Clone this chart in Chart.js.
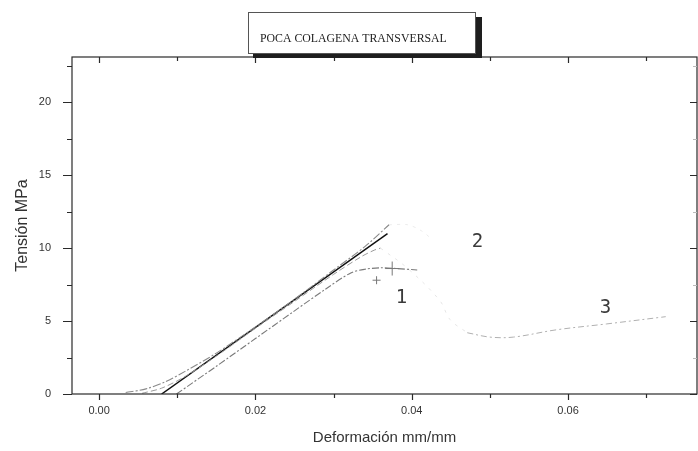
<!DOCTYPE html>
<html>
<head>
<meta charset="utf-8">
<script src="https://cdn.jsdelivr.net/npm/chart.js@4.4.0/dist/chart.umd.min.js"></script>
<style>
  html, body { margin: 0; padding: 0; background: #fff; overflow: hidden; }
  #wrap { position: absolute; left: 0; top: 0; width: 705px; height: 451px; }
</style>
</head>
<body>
<div id="wrap"><canvas id="c" width="705" height="451"></canvas></div>
<script>
// ---- Data ----
const chartTitle = 'POCA COLAGENA TRANSVERSAL';
const xTitle = 'Deformación mm/mm';
const yTitle = 'Tensión MPa';

const xTickValues = [0, 0.01, 0.02, 0.03, 0.04, 0.05, 0.06, 0.07];
const yTickValues = [0, 5, 10, 15, 20];
const yMinorValues = [2.5, 7.5, 12.5, 17.5, 22.5];

// solid black fit line
const fitStrain = [0.0080, 0.0369];
const fitStress = [0.0, 11.0];

// curve 1 (lower dashed)
const c1Strain = [0.0099, 0.0150, 0.0200, 0.0250, 0.0290, 0.0322, 0.0340, 0.0360, 0.0380, 0.0407];
const c1Stress = [0.0, 1.9, 3.8, 5.7, 7.2, 8.3, 8.55, 8.65, 8.6, 8.5];

// curve 2 (upper dashed)
const c2Strain = [0.0034, 0.0060, 0.0085, 0.0110, 0.0150, 0.0200, 0.0250, 0.0300, 0.0340, 0.0371];
const c2Stress = [0.1, 0.35, 0.85, 1.55, 2.8, 4.6, 6.5, 8.5, 10.1, 11.6];
const c2TailStrain = [0.0371, 0.0395, 0.0412, 0.0424];
const c2TailStress = [11.6, 11.6, 11.2, 10.7];

// curve 3
const c3Strain = [0.0055, 0.0080, 0.0110, 0.0150, 0.0200, 0.0250, 0.0300, 0.0335, 0.0352, 0.0360];
const c3Stress = [0.05, 0.4, 1.2, 2.6, 4.5, 6.35, 8.2, 9.4, 9.86, 10.0];
const c3FaintStrain = [0.0360, 0.0395, 0.0436, 0.0449, 0.0471];
const c3FaintStress = [10.0, 8.6, 6.4, 5.1, 4.2];
const c3TailStrain = [0.0471, 0.0500, 0.0530, 0.0585, 0.0649, 0.0725];
const c3TailStress = [4.2, 3.9, 3.9, 4.4, 4.8, 5.3];

// error crosses near curve 1 peak
const crossStrain = [0.0375, 0.0355];
const crossStress = [8.6, 7.8];
const crossSize = [7, 4];

// curve labels
const labelText = ['1', '2', '3'];
const labelStrain = [0.0387, 0.0484, 0.0648];
const labelStress = [6.6, 10.4, 5.9];

function pts(xs, ys) { return xs.map((x, i) => ({ x: x, y: ys[i] })); }

const frameColor = '#2a2a2a';

const decorPlugin = {
  id: 'decor',
  afterDraw(chart) {
    const ctx = chart.ctx;
    const a = chart.chartArea;
    const xs = chart.scales.x, ys = chart.scales.y;
    ctx.save();
    // frame
    ctx.strokeStyle = frameColor;
    ctx.lineWidth = 1.2;
    ctx.strokeRect(a.left, a.top, a.right - a.left, a.bottom - a.top);
    // x ticks
    xTickValues.forEach((v, i) => {
      const px = Math.round(xs.getPixelForValue(v)) + 0.5;
      const major = i % 2 === 0;
      const L = major ? 6 : 4;
      ctx.beginPath();
      ctx.moveTo(px, a.bottom); ctx.lineTo(px, a.bottom + L);
      ctx.moveTo(px, a.top); ctx.lineTo(px, a.top + L);
      ctx.stroke();
    });
    // y ticks
    yTickValues.forEach(v => {
      const py = Math.round(ys.getPixelForValue(v)) + 0.5;
      ctx.beginPath();
      ctx.moveTo(a.left - 9, py); ctx.lineTo(a.left, py);
      ctx.moveTo(a.right - 7, py); ctx.lineTo(a.right, py);
      ctx.stroke();
    });
    ctx.lineWidth = 1;
    yMinorValues.forEach(v => {
      const py = Math.round(ys.getPixelForValue(v)) + 0.5;
      ctx.beginPath();
      ctx.moveTo(a.left - 5, py); ctx.lineTo(a.left, py);
      ctx.stroke();
      ctx.strokeStyle = '#bbb';
      ctx.beginPath();
      ctx.moveTo(a.right - 4, py); ctx.lineTo(a.right, py);
      ctx.stroke();
      ctx.strokeStyle = frameColor;
    });
    // curve labels
    ctx.fillStyle = '#3a3a3a';
    ctx.font = '19px "DejaVu Sans Mono", "Liberation Mono", monospace';
    ctx.textAlign = 'center';
    ctx.textBaseline = 'middle';
    labelText.forEach((t, i) => {
      ctx.fillText(t, xs.getPixelForValue(labelStrain[i]), ys.getPixelForValue(labelStress[i]));
    });
    // title box
    ctx.fillStyle = '#1e1e1e';
    ctx.fillRect(253, 17, 229, 41);
    ctx.fillStyle = '#fff';
    ctx.fillRect(248, 12, 228, 42);
    ctx.strokeStyle = '#555';
    ctx.lineWidth = 1;
    ctx.strokeRect(248.5, 12.5, 227, 41);
    ctx.fillStyle = '#222';
    ctx.font = '11.8px "Liberation Serif", serif';
    ctx.textAlign = 'left';
    ctx.textBaseline = 'middle';
    ctx.fillText(chartTitle, 260, 39);
    ctx.restore();
  }
};

new Chart(document.getElementById('c'), {
  type: 'scatter',
  data: {
    datasets: [
      { data: pts(c2TailStrain, c2TailStress), showLine: true, borderColor: '#ececec', borderWidth: 1, borderDash: [3, 5], pointRadius: 0, tension: 0.3 },
      { data: pts(c3FaintStrain, c3FaintStress), showLine: true, borderColor: '#e6e6e6', borderWidth: 1, borderDash: [3, 6], pointRadius: 0, tension: 0.35 },
      { data: pts(c3TailStrain, c3TailStress), showLine: true, borderColor: '#b0b0b0', borderWidth: 1, borderDash: [6, 3, 2, 3], pointRadius: 0, tension: 0.35 },
      { data: pts(c1Strain, c1Stress), showLine: true, borderColor: '#7a7a7a', borderWidth: 1.1, borderDash: [7, 2, 2, 2], pointRadius: 0, tension: 0.3 },
      { data: pts(c2Strain, c2Stress), showLine: true, borderColor: '#8a8a8a', borderWidth: 1.1, borderDash: [8, 2, 2, 2], pointRadius: 0, tension: 0.3 },
      { data: pts(c3Strain, c3Stress), showLine: true, borderColor: '#9a9a9a', borderWidth: 1, borderDash: [6, 3], pointRadius: 0, tension: 0.3 },
      { data: pts(fitStrain, fitStress), showLine: true, borderColor: '#111', borderWidth: 1.5, pointRadius: 0 },
      { data: pts(crossStrain, crossStress), showLine: false, pointStyle: 'cross', pointRadius: crossSize, borderColor: '#777', borderWidth: 1 }
    ]
  },
  options: {
    responsive: false,
    animation: false,
    devicePixelRatio: 1,
    layout: { padding: { top: 57, right: 4, left: 0, bottom: 0 } },
    plugins: { legend: { display: false }, tooltip: { enabled: false } },
    scales: {
      x: {
        type: 'linear', min: -0.00347, max: 0.0765,
        afterFit(s) { s.height = 57; },
        afterBuildTicks(s) { s.ticks = xTickValues.map(v => ({ value: v })); },
        grid: { display: false, drawTicks: false },
        border: { display: false },
        ticks: {
          autoSkip: false, maxRotation: 0, padding: 10,
          color: '#333', font: { family: 'Liberation Sans, Arial', size: 11 },
          callback: (v, i) => (i % 2 === 0 ? Number(v).toFixed(2) : '')
        },
        title: { display: true, text: xTitle, color: '#333', font: { family: 'Liberation Sans, Arial', size: 15 }, padding: { top: 0, bottom: 4 } }
      },
      y: {
        type: 'linear', min: 0, max: 23.1,
        afterFit(s) { s.width = 72; },
        afterBuildTicks(s) { s.ticks = yTickValues.map(v => ({ value: v })); },
        grid: { display: false, drawTicks: false },
        border: { display: false },
        ticks: { padding: 21, color: '#333', font: { family: 'Liberation Sans, Arial', size: 11 } },
        title: { display: true, text: yTitle, color: '#333', font: { family: 'Liberation Sans, Arial', size: 16 }, padding: { top: 13, bottom: 0 } }
      }
    }
  },
  plugins: [decorPlugin]
});
</script>
</body>
</html>
